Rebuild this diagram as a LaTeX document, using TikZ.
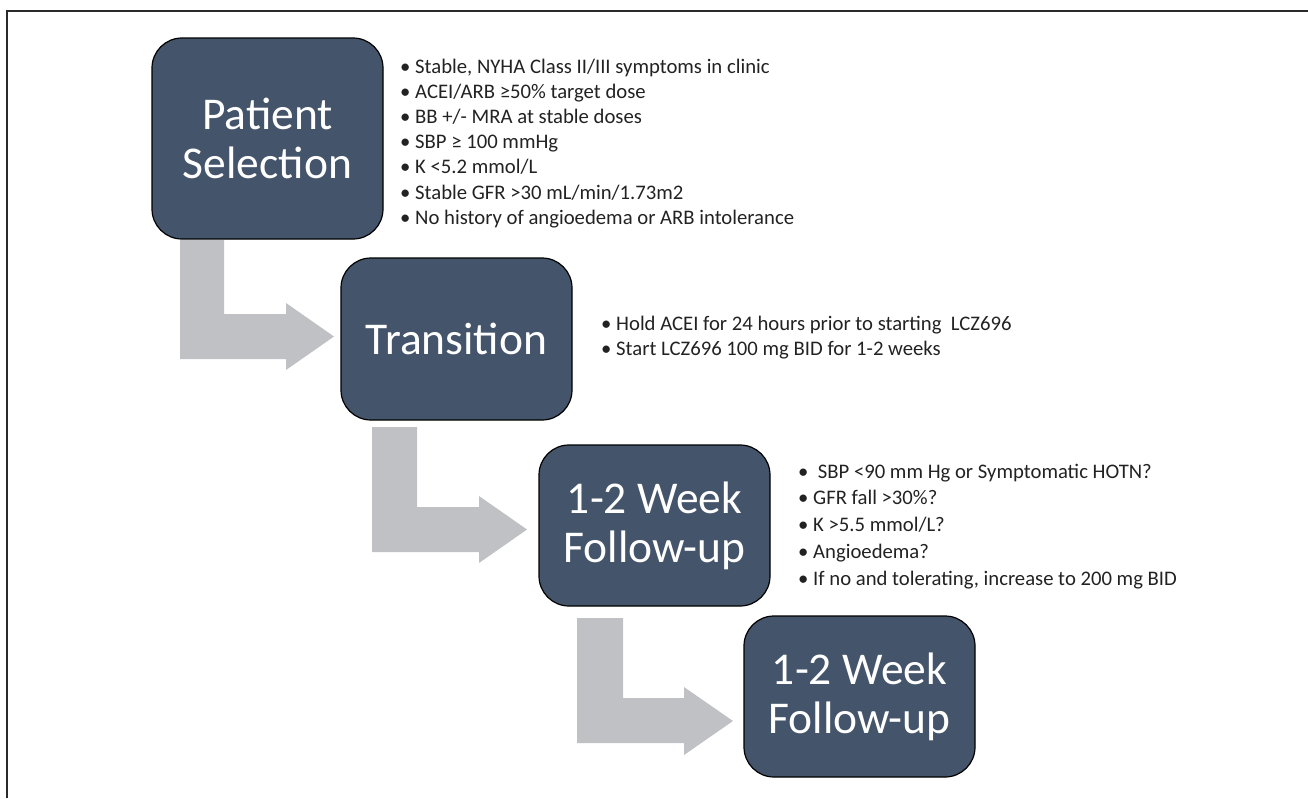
\documentclass[tikz,border=0pt]{standalone}
\usepackage{fontspec}
\setmainfont{Carlito}
\definecolor{boxfill}{HTML}{44546A}
\definecolor{arrowgray}{RGB}{192,193,196}
\definecolor{txtcol}{HTML}{222222}
\definecolor{framecol}{HTML}{2A2A2A}
\tikzset{
  stepbox/.style={draw=black, line width=1.2pt, fill=boxfill, rounded corners=30pt,
    minimum width=231pt, inner sep=0pt, align=center, text=white,
    font=\fontsize{45.5}{49}\selectfont},
  bul/.style={anchor=base west, inner sep=0pt, text=txtcol, font=\fontsize{20.7}{25}\selectfont},
  bentarrow/.style={fill=arrowgray, draw=none}
}
\begin{document}
\begin{tikzpicture}[x=1pt,y=-1pt]
\useasboundingbox (0,0) rectangle (1308,798);
% frame
\draw[framecol, line width=1.5pt] (7,798) -- (7,11) -- (1308,11);
% bent arrows
\fill[bentarrow] (180,240) -- (224,240) -- (224,314) -- (286,314) -- (286,303) -- (334,336.5) -- (286,370) -- (286,359) -- (180,359) -- cycle;
\fill[bentarrow] (372,427) -- (417,427) -- (417,507) -- (479,507) -- (479,496) -- (527,529.5) -- (479,563) -- (479,552) -- (372,552) -- cycle;
\fill[bentarrow] (577,618) -- (623,618) -- (623,698) -- (684,698) -- (684,687) -- (733,721) -- (684,755) -- (684,743) -- (577,743) -- cycle;
% boxes
\node[stepbox, minimum height=201pt] (b1) at (267.5,138.5) {Patient\\Selection};
\node[stepbox, minimum height=162pt] (b2) at (456.5,339) {Transition};
\node[stepbox, minimum height=161pt] (b3) at (654.5,525.5) {1-2 Week\\Follow-up};
\node[stepbox, minimum height=161pt] (b4) at (859.5,696.5) {1-2 Week\\Follow-up};
% list 1
\foreach \t [count=\i] in {{Stable, NYHA Class II/III symptoms in clinic},
  {ACEI/ARB ≥50\% target dose},
  {BB +/- MRA at stable doses},
  {SBP ≥ 100 mmHg},
  {K <5.2 mmol/L},
  {Stable GFR >30 mL/min/1.73m2},
  {No history of angioedema or ARB intolerance}}
  \node[bul] (la\i) at (400,{73+25.2*(\i-1)}) {•\space\t};
% list 2
\node[bul] (lb1) at (601,330) {•\space Hold ACEI for 24 hours prior to starting\space\space LCZ696};
\node[bul] (lb2) at (601,355) {•\space Start LCZ696 100 mg BID for 1-2 weeks};
% list 3
\node[bul] (lc1) at (798,478) {•\space\space SBP <90 mm Hg or Symptomatic HOTN?};
\foreach \t [count=\i from 2] in {{GFR fall >30\%?},
  {K >5.5 mmol/L?},
  {Angioedema?},
  {If no and tolerating, increase to 200 mg BID}}
  \node[bul] (lc\i) at (798,{478+26.8*(\i-1)}) {•\space\t};
\end{tikzpicture}
\end{document}
